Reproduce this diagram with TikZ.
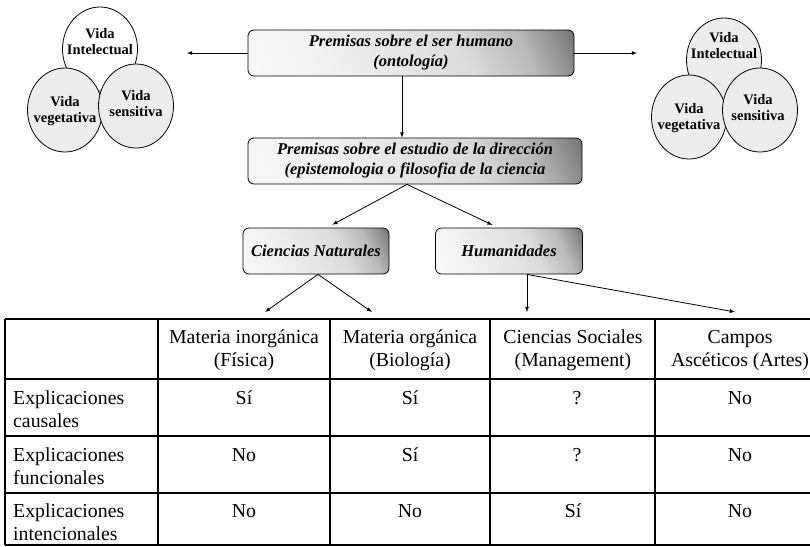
\documentclass[tikz,border=0pt]{standalone}
\usepackage{fontspec}
\setmainfont{Liberation Serif}
\usetikzlibrary{shapes.geometric}
\pgfdeclarehorizontalshading{boxshade}{100bp}{color(0bp)=(white); color(35bp)=(gray!12); color(60bp)=(gray!28); color(72bp)=(gray!55); color(100bp)=(black!95)}

\begin{document}
\begin{tikzpicture}[x=1pt, y=-1pt,
  premisa/.style={draw, thick, rounded corners=6pt, shading=boxshade, shading angle=25,
    align=center, font=\fontsize{16.5}{20}\selectfont\bfseries\itshape, inner sep=0pt, minimum height=46pt},
  vida/.style={ellipse, draw, thick, minimum width=75pt, minimum height=84pt, inner sep=0pt},
  textura/.style={vida, fill=gray!14},
  vidatxt/.style={align=center, font=\fontsize{14.5}{16}\selectfont\bfseries},
  flecha/.style={-latex, thick},
  celda/.style={align=center, font=\fontsize{19.8}{23}\selectfont, inner sep=1pt},
  rejilla/.style={line width=1.4pt}]
\clip (0,0) rectangle (810,546);

% vidas (izquierda)
\node[vida, fill=white] (intl) at (100,49) {};
\node[textura] (veg) at (65,110) {};
\node[textura] (sen) at (136,106) {};
\node[vidatxt] (intltxt) at (100,42) {Vida\\Intelectual};
\node[vidatxt] (vegtxt) at (65,111) {Vida\\vegetativa};
\node[vidatxt] (sentxt) at (136,104) {Vida\\sensitiva};

% vidas (derecha)
\node[textura] (intr) at (724,60) {};
\node[textura] (vegr) at (689,117) {};
\node[textura] (senr) at (760,110) {};
\node[vidatxt] (intrtxt) at (724,46) {Vida\\Intelectual};
\node[vidatxt] (vegrtxt) at (689,118) {Vida\\vegetativa};
\node[vidatxt] (senrtxt) at (758,108) {Vida\\sensitiva};

% premisas
\node[premisa, minimum width=326pt] (onto) at (411,53) {Premisas sobre el ser humano\\(ontología)};
\node[premisa, minimum width=334pt] (epis) at (415,161) {Premisas sobre el estudio de la dirección\\(epistemologia o filosofia de la ciencia};
\node[premisa, minimum width=146pt] (nat) at (316,251) {Ciencias Naturales};
\node[premisa, minimum width=147pt] (hum) at (509,251) {Humanidades};

\coordinate (izq) at (187,53);
\coordinate (der) at (637,53);
\coordinate (fis) at (265,312);
\coordinate (bio) at (372,312);
\coordinate (soc) at (527,312);
\coordinate (art) at (735,312);

\draw[flecha] (onto.west) -- (izq);
\draw[flecha] (onto.east) -- (der);
\draw[flecha] ([xshift=-9pt]onto.south) -- ([xshift=-13pt]epis.north);
\draw[flecha, shorten >=6pt] ([xshift=-8pt]epis.south) -- ([xshift=11pt]nat.north);
\draw[flecha, shorten >=6pt] ([xshift=-8pt]epis.south) -- ([xshift=-11pt]hum.north);
\draw[flecha] ([xshift=2pt]nat.south) -- (fis);
\draw[flecha] ([xshift=2pt]nat.south) -- (bio);
\draw[flecha] (soc |- hum.south) -- (soc);
\draw[flecha] (soc |- hum.south) -- (art);

% tabla
\foreach \y in {319,379,436,493,545}
  \draw[rejilla] (5,\y) -- (830,\y);
\foreach \x in {5,158,330,490,655}
  \draw[rejilla] (\x,319) -- (\x,545);

\node[celda, anchor=north] (h1) at (244,329) {Materia inorgánica\\(Física)};
\node[celda, anchor=north] (h2) at (410,329) {Materia orgánica\\(Biología)};
\node[celda, anchor=north] (h3) at (573,329) {Ciencias Sociales\\(Management)};
\node[celda, anchor=north] (h4) at (740,329) {Campos\\Ascéticos (Artes)};

\node[celda, align=left, anchor=north west] (r1) at (12,390) {Explicaciones\\causales};
\node[celda, align=left, anchor=north west] (r2) at (12,447) {Explicaciones\\funcionales};
\node[celda, align=left, anchor=north west] (r3) at (12,503) {Explicaciones\\intencionales};

\node[celda, anchor=north] (c11) at (244,390) {Sí};
\node[celda, anchor=north] (c12) at (410,390) {Sí};
\node[celda, anchor=north] (c13) at (577,390) {?};
\node[celda, anchor=north] (c14) at (740,390) {No};
\node[celda, anchor=north] (c21) at (244,447) {No};
\node[celda, anchor=north] (c22) at (410,447) {Sí};
\node[celda, anchor=north] (c23) at (577,447) {?};
\node[celda, anchor=north] (c24) at (740,447) {No};
\node[celda, anchor=north] (c31) at (244,503) {No};
\node[celda, anchor=north] (c32) at (410,503) {No};
\node[celda, anchor=north] (c33) at (573,503) {Sí};
\node[celda, anchor=north] (c34) at (740,503) {No};
\end{tikzpicture}
\end{document}
